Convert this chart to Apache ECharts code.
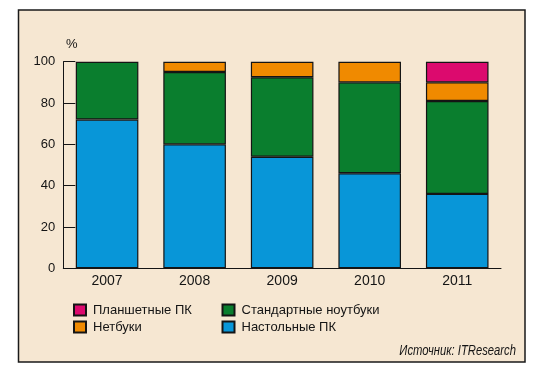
<!DOCTYPE html>
<html><head><meta charset="utf-8">
<script src="https://cdn.jsdelivr.net/npm/echarts@6/dist/echarts.min.js"></script>
<style>html,body{margin:0;padding:0;background:#fff}#c{width:542px;height:372px}</style>
</head><body><div id="c"></div>
<script>
var years = ['2007', '2008', '2009', '2010', '2011'];
var desktop = [72, 60, 54, 46, 36];
var notebooks = [28, 35, 38.5, 44, 45];
var netbooks = [0, 5, 7.5, 10, 9];
var tablets = [0, 0, 0, 0, 10];
var yTicks = [0, 20, 40, 60, 80, 100];
var names = ['Планшетные ПК', 'Нетбуки', 'Стандартные ноутбуки', 'Настольные ПК'];
var colors = {tab: '#dc0a6e', net: '#f08a00', note: '#0a7e2e', desk: '#0896d8'};
var FONT = '"Liberation Sans Narrow", "Liberation Sans", Arial, sans-serif';

var chart = echarts.init(document.getElementById('c'));
function bar(name, data, color) {
  return {
    name: name, type: 'bar', stack: 's', barWidth: '71.5%',
    data: data.map(function (v) { return v === 0 ? '-' : v; }),
    itemStyle: {color: color, borderColor: '#141414', borderWidth: 1.2},
    emphasis: {disabled: true}
  };
}
var legendCommon = {
  orient: 'vertical', top: 303.5, padding: 0,
  icon: 'rect', itemWidth: 12, itemHeight: 11, itemGap: 4,
  textStyle: {fontSize: 13, color: '#141414', fontFamily: FONT, padding: [0, 0, 0, 2]},
  selectedMode: false
};
chart.setOption({
  animation: false,
  textStyle: {fontFamily: FONT},
  graphic: [{
    type: 'rect', z: -1, silent: true,
    shape: {x: 18.5, y: 10, width: 506.5, height: 352},
    style: {fill: '#f6e7d2', stroke: '#1a1a1a', lineWidth: 1.5}
  }, {
    type: 'text', x: 66, y: 44, silent: true,
    style: {text: '%', font: '13px ' + FONT, fill: '#141414', verticalAlign: 'middle'}
  }, {
    type: 'text', x: 516, y: 351, scaleX: 0.75, silent: true,
    style: {text: 'Источник: ITResearch', font: 'italic 15px ' + FONT, fill: '#141414',
      align: 'right', verticalAlign: 'middle'}
  }],
  grid: {left: 63.3, right: 41, top: 61.7, bottom: 103.7},
  legend: [
    Object.assign({data: [names[0], names[1]], left: 73}, legendCommon),
    Object.assign({data: [names[2], names[3]], left: 221.5}, legendCommon)
  ],
  xAxis: {
    type: 'category', data: years,
    axisLine: {lineStyle: {color: '#141414', width: 1}},
    axisTick: {inside: true, length: 5, lineStyle: {color: '#141414'}},
    axisLabel: {fontSize: 14, color: '#141414', margin: 6, fontFamily: FONT}
  },
  yAxis: {
    type: 'value', min: 0, max: 100, interval: 20,
    axisLine: {show: true, lineStyle: {color: '#141414', width: 1}},
    axisTick: {show: true, inside: true, length: 12, lineStyle: {color: '#141414'}},
    splitLine: {show: false},
    axisLabel: {fontSize: 13, color: '#141414', margin: 8, fontFamily: FONT,
      formatter: function (v) { return yTicks.indexOf(v) >= 0 ? String(v) : ''; }}
  },
  series: [
    bar(names[3], desktop, colors.desk),
    bar(names[2], notebooks, colors.note),
    bar(names[1], netbooks, colors.net),
    bar(names[0], tablets, colors.tab)
  ]
});
</script></body></html>
